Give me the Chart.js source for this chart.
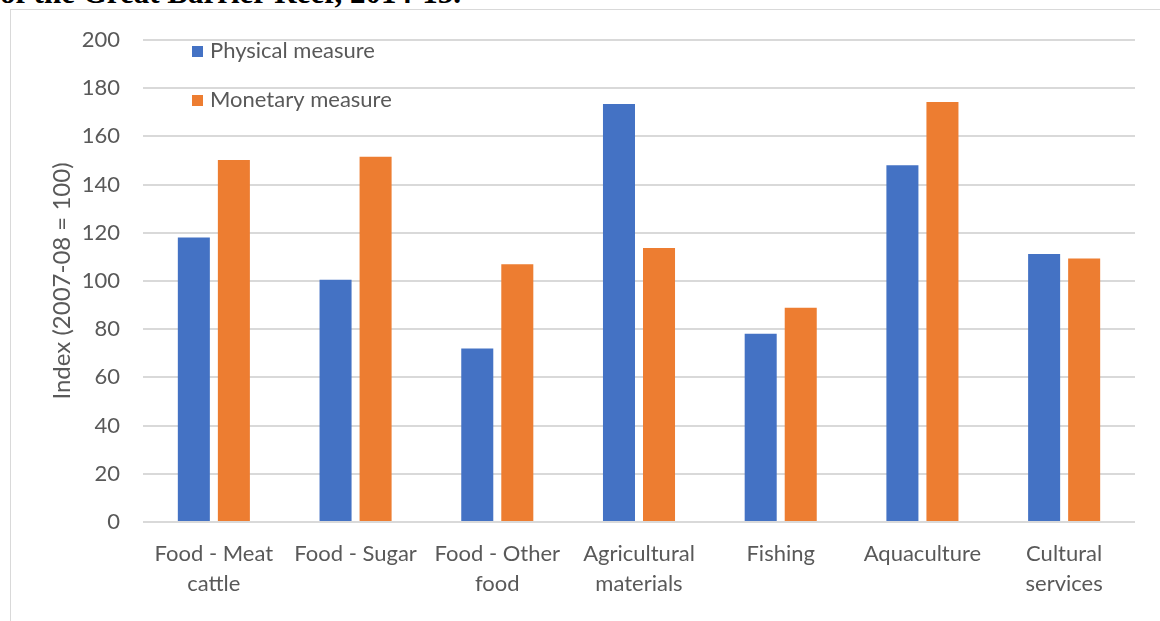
<!DOCTYPE html>
<html>
<head>
<meta charset="utf-8">
<script src="https://cdn.jsdelivr.net/npm/chart.js@4"></script>
<style>
  html, body { margin: 0; padding: 0; background: #fff; overflow: hidden; }
  #wrap { position: relative; width: 1160px; height: 621px; }
  #title { position: absolute; left: 0; top: -25px; font: bold 31px "Liberation Serif", serif; color: #000; white-space: nowrap; }
  #frame { position: absolute; left: 10px; top: 9px; width: 1300px; height: 800px; border: 1px solid #d9d9d9; background: #fff; }
  #c { position: absolute; left: 0; top: 0; }
</style>
</head>
<body>
<div id="wrap">
  <div id="title">of the Great Barrier Reef, 2014-15.</div>
  <div id="frame"></div>
  <canvas id="c" width="1160" height="621"></canvas>
</div>
<script>
const categories = [['Food - Meat', 'cattle'], 'Food - Sugar', ['Food - Other', 'food'], ['Agricultural', 'materials'], 'Fishing', 'Aquaculture', ['Cultural', 'services']];
const physical = [118, 100.5, 72, 173.4, 78.1, 148, 111.2];
const monetary = [150.2, 151.6, 106.9, 113.7, 88.9, 174.3, 109.3];
const yTicks = [0, 20, 40, 60, 80, 100, 120, 140, 160, 180, 200];

const FONT = 'Lato, "Open Sans", sans-serif';
const GREY = '#595959';

// legend drawn inside the plot area, stacked
const insideLegend = {
  id: 'insideLegend',
  afterDraw(chart) {
    const ctx = chart.ctx;
    ctx.save();
    ctx.font = '22px ' + FONT;
    ctx.textBaseline = 'middle';
    chart.data.datasets.forEach((ds, i) => {
      const y = 51 + i * 49;
      ctx.fillStyle = ds.backgroundColor;
      ctx.fillRect(192, y - 5, 11, 11);
      ctx.fillStyle = GREY;
      ctx.fillText(ds.label, 210, y);
    });
    ctx.restore();
  }
};

new Chart(document.getElementById('c').getContext('2d'), {
  type: 'bar',
  data: {
    labels: categories,
    datasets: [
      { label: 'Physical measure', data: physical, backgroundColor: '#4472C4' },
      { label: 'Monetary measure', data: monetary, backgroundColor: '#ED7D31' }
    ]
  },
  options: {
    responsive: false,
    animation: false,
    layout: { padding: { top: 40, right: 25, left: 48, bottom: 0 } },
    categoryPercentage: 0.565,
    barPercentage: 0.8,
    plugins: { legend: { display: false }, tooltip: { enabled: false } },
    scales: {
      x: {
        grid: { display: false, drawTicks: false },
        border: { display: false },
        ticks: { color: GREY, font: { family: FONT, size: 22, lineHeight: 1.36 }, padding: 17, maxRotation: 0, autoSkip: false },
        afterFit(scale) { scale.height = 99; }
      },
      y: {
        min: 0,
        max: 200,
        afterBuildTicks(scale) { scale.ticks = yTicks.map(v => ({ value: v })); },
        grid: { color: '#d9d9d9', lineWidth: 2, drawTicks: false },
        border: { display: false },
        ticks: { color: GREY, font: { family: FONT, size: 22 }, padding: 23 },
        title: { display: true, text: 'Index (2007-08 = 100)', color: GREY, font: { family: FONT, size: 24 }, padding: 0 },
        afterFit(scale) { scale.width = 95; }
      }
    }
  },
  plugins: [insideLegend]
});
</script>
</body>
</html>
